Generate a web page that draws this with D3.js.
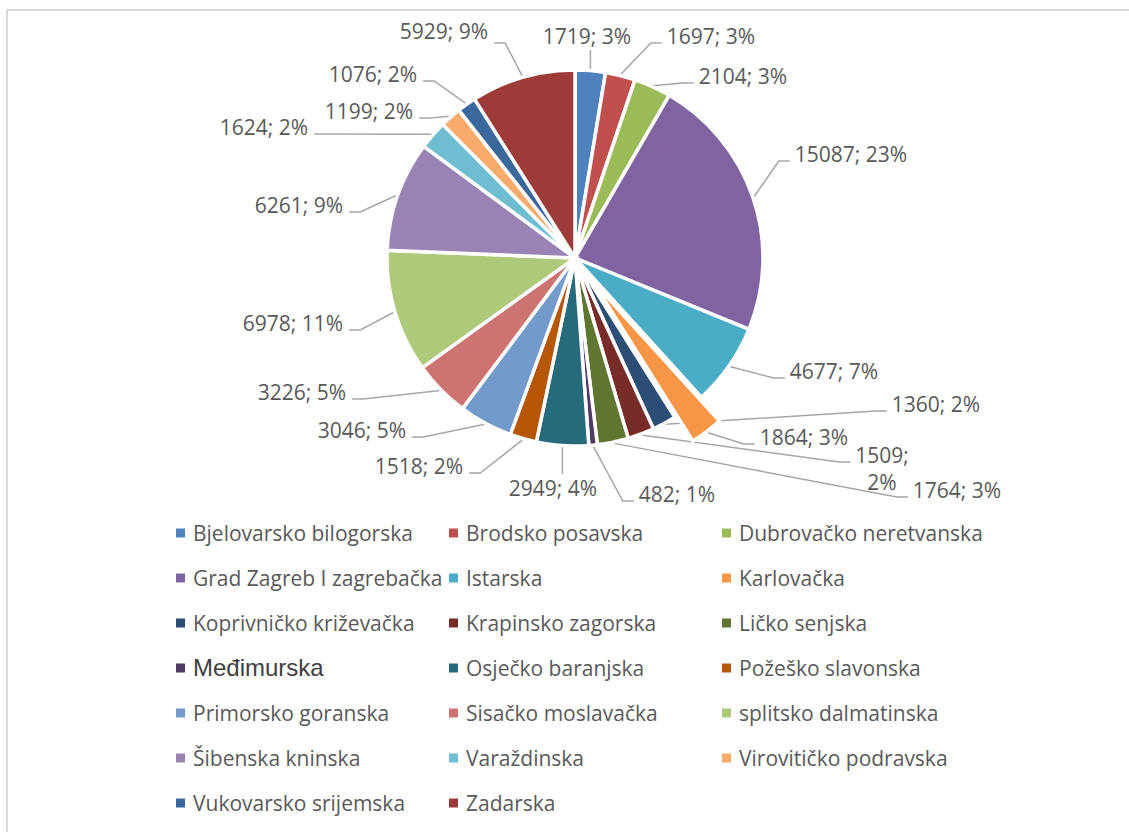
<!DOCTYPE html>
<html><head><meta charset="utf-8">
<script src="https://cdn.jsdelivr.net/npm/d3@7"></script>
<style>body{margin:0;background:#fff;overflow:hidden}</style>
</head><body>
<svg id="chart" width="1129" height="832"></svg>
<script>
// ---------- data ----------
const categories = [
  "Bjelovarsko bilogorska","Brodsko posavska","Dubrovačko neretvanska",
  "Grad Zagreb I zagrebačka","Istarska","Karlovačka",
  "Koprivničko križevačka","Krapinsko zagorska","Ličko senjska",
  "Međimurska","Osječko baranjska","Požeško slavonska",
  "Primorsko goranska","Sisačko moslavačka","splitsko dalmatinska",
  "Šibenska kninska","Varaždinska","Virovitičko podravska",
  "Vukovarsko srijemska","Zadarska"
];
const values = [1719,1697,2104,15087,4677,1864,1360,1509,1764,482,2949,1518,3046,3226,6978,6261,1624,1199,1076,5929];
const colors = ["#4F81BD","#C0504D","#9BBB59","#8064A2","#4BACC6","#F79646",
  "#2C4D75","#772C2A","#5F7530","#4D3B62","#276A7C","#B65708",
  "#729ACA","#CD7371","#AFC97A","#9983B5","#6FBDD1","#F9AB6B","#3A679C","#9D3B39"];
const explode = [0,0,0,0,0,30,0,0,0,0,0,0,0,0,0,0,0,0,0,0];

// label layout: text centre (x,y), attach side, extra attach offset
const labelLayout = [
  [587,36,"B"],[711,36,"R"],[743,76,"R"],[851,154,"R"],[834,371,"R"],
  [804,437,"R"],[936,404,"R"],[882,455,"R"],[957,490,"R"],[677,494,"R"],
  [553,488,"T"],[419,466,"L"],[362,430,"L"],[302,392,"L"],[293,323,"L"],
  [299,205,"L"],[264,127,"L"],[369,111,"L"],[373,74,"L"],[444,31,"L",12]
];
const wrapLabels = [7]; // label drawn on two lines

// ---------- layout ----------
const W = 1129, H = 832;
const cx = 575, cy = 258, R = 188;
const labelFont = "Open Sans", labelSize = 21;
const textColor = "#595959";

const svg = d3.select("#chart");
svg.append("rect").attr("x",7).attr("y",10).attr("width",1300).attr("height",1000)
  .attr("fill","#fff").attr("stroke","#d9d9d9").attr("stroke-width",2);

const total = d3.sum(values);
const pct = d3.format(".0%");
const data = categories.map((c,i)=>({name:c,value:values[i],color:colors[i],explode:explode[i],i}));
const pie = d3.pie().sort(null).value(d=>d.value);
const arcs = pie(data);
const arc = d3.arc().innerRadius(0).outerRadius(R);

const g = svg.append("g").attr("transform",`translate(${cx},${cy})`);
g.selectAll("path.slice").data(arcs).join("path")
  .attr("class","slice")
  .attr("d",arc)
  .attr("fill",d=>d.data.color)
  .attr("stroke","#fff").attr("stroke-width",3.5).attr("stroke-linejoin","miter")
  .attr("transform",d=>{
    const a=(d.startAngle+d.endAngle)/2, e=d.data.explode;
    return `translate(${Math.sin(a)*e},${-Math.cos(a)*e})`;
  });

// labels
const lg = svg.append("g");
const leaderG = svg.insert("g","g");
arcs.forEach((d,i)=>{
  const [tx,ty,mode,extra] = labelLayout[i];
  const txt = `${d.data.value}; ${pct(d.data.value/total)}`;
  const t = lg.append("text")
    .attr("font-family",labelFont).attr("font-size",labelSize).attr("fill",textColor)
    .attr("text-anchor","middle");
  if (wrapLabels.includes(i)) {
    const parts = txt.split(" ");
    t.append("tspan").attr("x",tx).attr("y",ty+labelSize*0.36).text(parts[0]);
    t.append("tspan").attr("x",tx).attr("y",ty+labelSize*0.36+27).text(parts[1]);
  } else {
    t.attr("x",tx).attr("y",ty+labelSize*0.36).text(txt);
  }
  const w = wrapLabels.includes(i) ? t.select("tspan").node().getComputedTextLength() : t.node().getComputedTextLength();
  const a = (d.startAngle+d.endAngle)/2;
  const r0 = R + d.data.explode + 1;
  const sx = cx + Math.sin(a)*r0, sy = cy - Math.cos(a)*r0;
  let pts;
  const ay = ty + (extra!==undefined ? extra : 7);
  if (mode==="B") {
    pts = [[sx,sy],[sx,ty+14]];
  } else if (mode==="T") {
    pts = [[sx,sy],[sx,ty-14]];
  } else if (mode==="R") {
    const ex = tx - w/2 - 5;
    pts = [[sx,sy],[ex-11,ay],[ex,ay]];
  } else {
    const ex = tx + w/2 + 6;
    pts = [[sx,sy],[ex+11,ay],[ex,ay]];
  }
  leaderG.append("path").attr("d",d3.line()(pts))
    .attr("fill","none").attr("stroke","#a6a6a6").attr("stroke-width",1.5);
});

// legend
const legX = [176,449,722], legY0 = 533, legDY = 45;
const leg = svg.append("g");
data.forEach((d,i)=>{
  const col = i%3, row = Math.floor(i/3);
  const x = legX[col], y = legY0 + row*legDY;
  leg.append("rect").attr("x",x).attr("y",y-4.5).attr("width",9).attr("height",9).attr("fill",d.color);
  const special = d.name==="Međimurska";
  leg.append("text").attr("x",x+17).attr("y",y+7.5)
    .attr("font-family",special?"Liberation Sans":labelFont)
    .attr("font-size",special?24:21)
    .attr("fill",special?"#404040":textColor)
    .text(d.name);
});
</script>
</body></html>
